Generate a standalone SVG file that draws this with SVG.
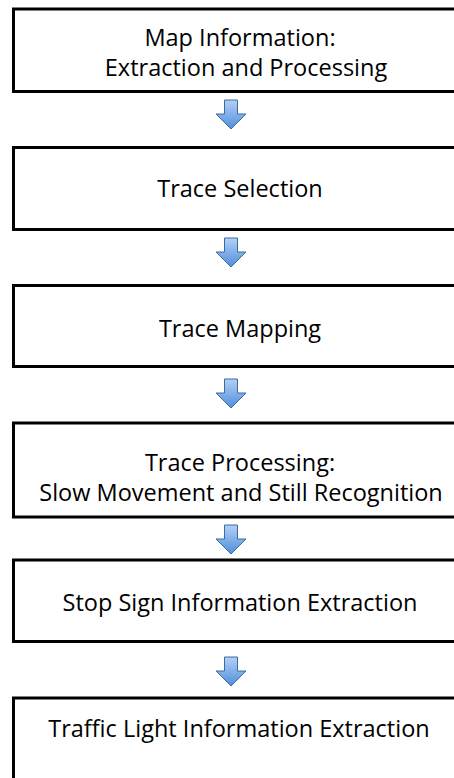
<svg xmlns="http://www.w3.org/2000/svg" width="454" height="778" viewBox="0 0 454 778">
  <defs>
    <linearGradient id="arrowFill" x1="0" y1="0" x2="0" y2="1">
      <stop offset="0" stop-color="#b3d0f5"/>
      <stop offset="1" stop-color="#4f8fdc"/>
    </linearGradient>
    <!-- block arrow, origin at the top centre of the shaft -->
    <path id="downArrow" d="M -6.5 0 H 6.5 V 14 H 15 L 0 29 L -15 14 H -6.5 Z"/>
  </defs>
  <style>
    .box { fill: #ffffff; stroke: #000000; stroke-width: 3; }
    .label { font-family: "Open Sans", "Liberation Sans", sans-serif; font-size: 23.5px; fill: #000000; text-anchor: middle; }
    .arrow { fill: url(#arrowFill); stroke: #3d6aa3; stroke-width: 1; stroke-linejoin: miter; }
  </style>
  <rect width="454" height="778" fill="#ffffff"/>

  <g id="map-information">
    <rect class="box" x="13.5" y="9" width="460" height="82.5"/>
    <text class="label" x="240" y="46">Map Information:</text>
    <text class="label" x="246" y="76">Extraction and Processing</text>
  </g>

  <g id="trace-selection">
    <rect class="box" x="13.5" y="147.5" width="460" height="82"/>
    <text class="label" x="240" y="197">Trace Selection</text>
  </g>

  <g id="trace-mapping">
    <rect class="box" x="13.5" y="285.5" width="460" height="81"/>
    <text class="label" x="240" y="337">Trace Mapping</text>
  </g>

  <g id="trace-processing">
    <rect class="box" x="13.5" y="423" width="460" height="94"/>
    <text class="label" x="240" y="471">Trace Processing:</text>
    <text class="label" x="241" y="501">Slow Movement and Still Recognition</text>
  </g>

  <g id="stop-sign-extraction">
    <rect class="box" x="13.5" y="560" width="460" height="81.5"/>
    <text class="label" x="240" y="611">Stop Sign Information Extraction</text>
  </g>

  <g id="traffic-light-extraction">
    <rect class="box" x="13.5" y="698" width="460" height="100"/>
    <text class="label" x="239" y="737">Traffic Light Information Extraction</text>
  </g>

  <g id="connectors">
    <use class="arrow" href="#downArrow" x="231" y="100"/>
    <use class="arrow" href="#downArrow" x="231" y="238"/>
    <use class="arrow" href="#downArrow" x="231" y="379"/>
    <use class="arrow" href="#downArrow" x="231" y="525"/>
    <use class="arrow" href="#downArrow" x="231" y="657"/>
  </g>
</svg>
